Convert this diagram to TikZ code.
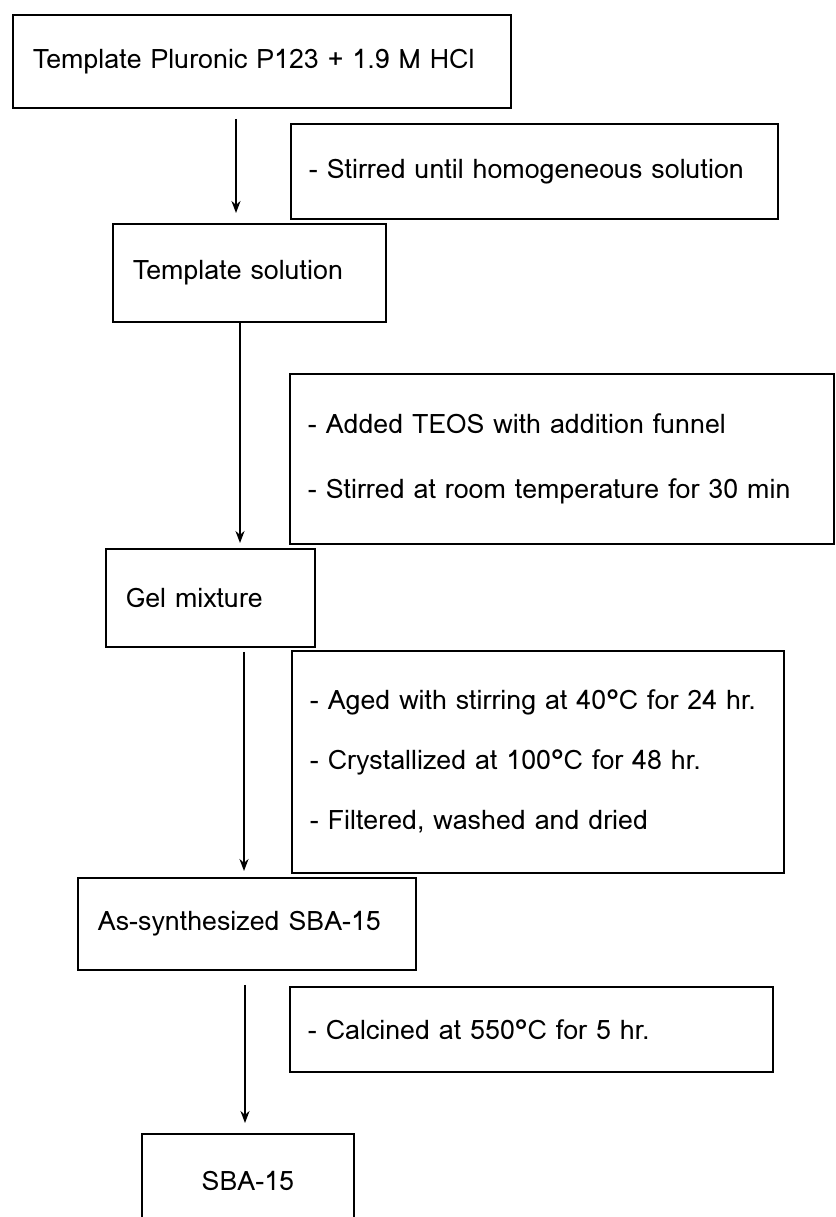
\documentclass[tikz,border=0pt]{standalone}
\usepackage{fontspec}
\setmainfont{Loma}
\usetikzlibrary{arrows.meta, positioning, calc}
\newcommand{\stagefont}{\fontsize{13.4}{16}\selectfont}

\begin{document}
\begin{tikzpicture}[
    x=0.5pt, y=-0.5pt,
    stage/.style={rectangle, draw, line width=0.9pt, anchor=north west, inner xsep=10pt, inner ysep=0pt, align=left, font=\stagefont},
    note/.style={stage, inner xsep=9pt},
    flow/.style={-{Stealth[length=6pt, width=4.5pt]}, line width=1.1pt}
]
\clip (0,0) rectangle (836,1217);

% main stages
\node[stage, text width=229pt, minimum height=46.5pt] (tpl) at (12,14) {Template Pluronic P123 + 1.9 M HCl};
\node[stage, text width=116.5pt, minimum height=49pt] (sol) at (112,223) {Template solution};
\node[stage, text width=84.5pt, minimum height=49pt] (gel) at (105,548) {Gel mixture};
\node[stage, text width=149pt, minimum height=46pt] (asy) at (77,877) {As-synthesized SBA-15};
\node[stage, align=center, text width=86pt, minimum height=47pt] (sba) at (141,1133) {SBA-15};

% process conditions
\node[note, text width=225.5pt, minimum height=47.5pt] (stir) at (290,123) {- Stirred until homogeneous solution};
\node[note, text width=254pt, minimum height=85pt, font=\fontsize{13.4}{32.5}\selectfont] (teos) at (289,373)
    {- Added TEOS with addition funnel\\- Stirred at room temperature for 30 min};
\node[note, text width=228pt, minimum height=111pt, font=\fontsize{13.4}{30}\selectfont] (aged) at (291,650)
    {- Aged with stirring at 40°C for 24 hr.\\- Crystallized at 100°C for 48 hr.\\- Filtered, washed and dried};
\node[note, text width=223.5pt, minimum height=42.5pt] (calc) at (289,986) {- Calcined at 550°C for 5 hr.};

% arrows
\coordinate (a1) at (236,0);
\coordinate (a2) at (240,0);
\coordinate (a3) at (244,0);
\coordinate (a4) at (245,0);
\draw[flow] ($(tpl.south -| a1)+(0,10)$) -- ($(sol.north -| a1)+(0,-10)$);
\draw[flow] (sol.south -| a2) -- ($(gel.north -| a2)+(0,-5)$);
\draw[flow] ($(gel.south -| a3)+(0,4)$) -- ($(asy.north -| a3)+(0,-6)$);
\draw[flow] ($(asy.south -| a4)+(0,14)$) -- ($(sba.north -| a4)+(0,-10)$);
\end{tikzpicture}
\end{document}
